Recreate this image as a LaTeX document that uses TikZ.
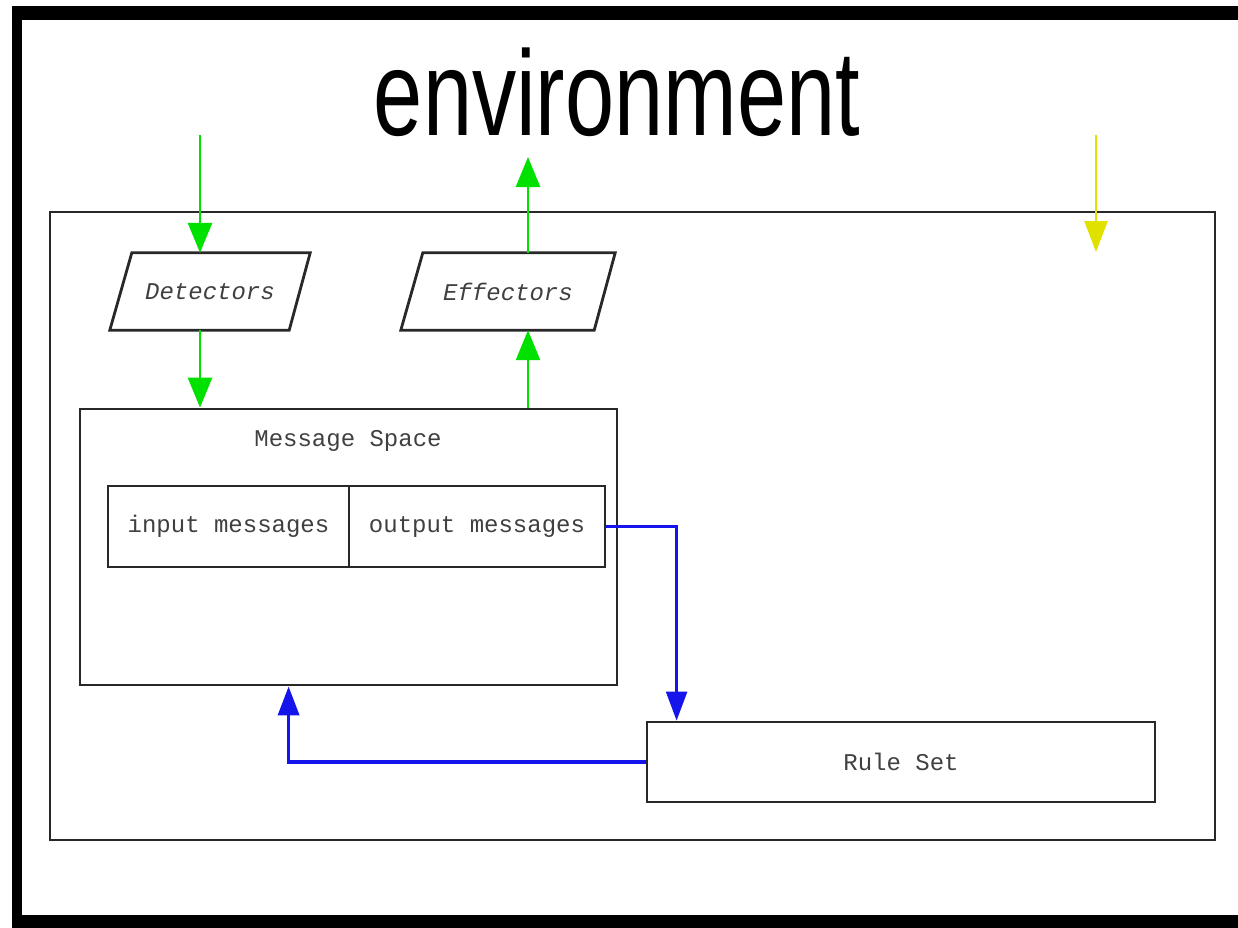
\documentclass[tikz,border=0pt]{standalone}
\usepackage{fontspec}
\setmonofont{Liberation Mono}
\newfontfamily\envfont{Liberation Sans}
\usetikzlibrary{arrows.meta,calc}
\definecolor{grn}{RGB}{0,225,0}
\definecolor{blu}{RGB}{20,20,235}
\definecolor{ylw}{RGB}{225,225,0}
\definecolor{boxline}{RGB}{40,40,40}
\begin{document}
\begin{tikzpicture}[x=1pt,y=-1pt,
  box/.style={draw=boxline,line width=2.8pt,rectangle,inner sep=0pt,font=\fontsize{24}{24}\ttfamily,text=black!75},
  lbl/.style={inner sep=0pt,font=\fontsize{24}{24}\ttfamily,text=black!75},
  pgram/.style={rectangle,inner sep=0pt,minimum height=77pt,font=\fontsize{24}{24}\ttfamily\itshape,text=black!75},
  garrow/.style={draw=grn,line width=2.6pt,-{Triangle[length=30pt,width=24pt]}},
  yarrow/.style={draw=ylw,line width=2.6pt,-{Triangle[length=31pt,width=23pt]}},
  barrow/.style={draw=blu,line width=2.4pt,-{Triangle[length=29pt,width=21pt]}},
]
\useasboundingbox (0,0) rectangle (1238,927);
\fill[white] (0,0) rectangle (1238,927);
% outer frame (environment)
\fill[black] (12,5.5) rectangle (1260,19.5);
\fill[black] (12,915) rectangle (1260,928);
\fill[black] (12,5.5) rectangle (22,928);
\node[anchor=base,inner sep=0pt,font=\envfont\fontsize{121}{121}\selectfont] (env) at (617,135) {\scalebox{0.73}[1]{environment}};
% system box
\node[draw=boxline,line width=2.8pt,rectangle,inner sep=0pt,minimum width=1165pt,minimum height=628pt] (sys) at (632.5,526) {};
% detectors / effectors
\node[pgram,minimum width=200pt] (det) at (210,291.5) {Detectors};
\draw[boxline,line width=2.8pt] ($(det.north west)+(22,0)$) -- (det.north east) -- ($(det.south east)+(-21,0)$) -- (det.south west) -- cycle;
\node[pgram,minimum width=214pt] (eff) at (508,291.5) {Effectors};
\draw[boxline,line width=2.8pt] ($(eff.north west)+(22,0)$) -- (eff.north east) -- ($(eff.south east)+(-21,0)$) -- (eff.south west) -- cycle;
% message space
\node[box,minimum width=537pt,minimum height=276pt] (ms) at (348.5,547) {};
\node[lbl] (mstitle) at (348,441) {Message Space};
\node[box,minimum width=241pt,minimum height=81pt] (in) at (228.5,526.5) {input messages};
\node[box,minimum width=256pt,minimum height=81pt] (out) at (477,526.5) {output messages};
% rule set
\node[box,minimum width=508pt,minimum height=80pt] (rs) at (901,762) {Rule Set};
% free ends of the environment arrows
\coordinate (dsrc) at (200,135);
\coordinate (etgt) at (528,157);
\coordinate (ysrc) at (1096,135);
\coordinate (ytgt) at (1096,252);
% green arrows
\draw[garrow] (dsrc) -- (dsrc |- det.north);
\draw[garrow] (dsrc |- det.south) -- (dsrc |- ms.north);
\draw[garrow] (etgt |- ms.north) -- (etgt |- eff.south);
\draw[garrow] (etgt |- eff.north) -- (etgt);
% yellow arrow
\draw[yarrow] (ysrc) -- (ytgt);
% blue arrows
\draw[barrow] (out.east) -| ($(rs.north west)+(31,0)$);
\draw[barrow,line width=3.6pt] (rs.west) -| ($(ms.south west)+(210,0)$);
\end{tikzpicture}
\end{document}
